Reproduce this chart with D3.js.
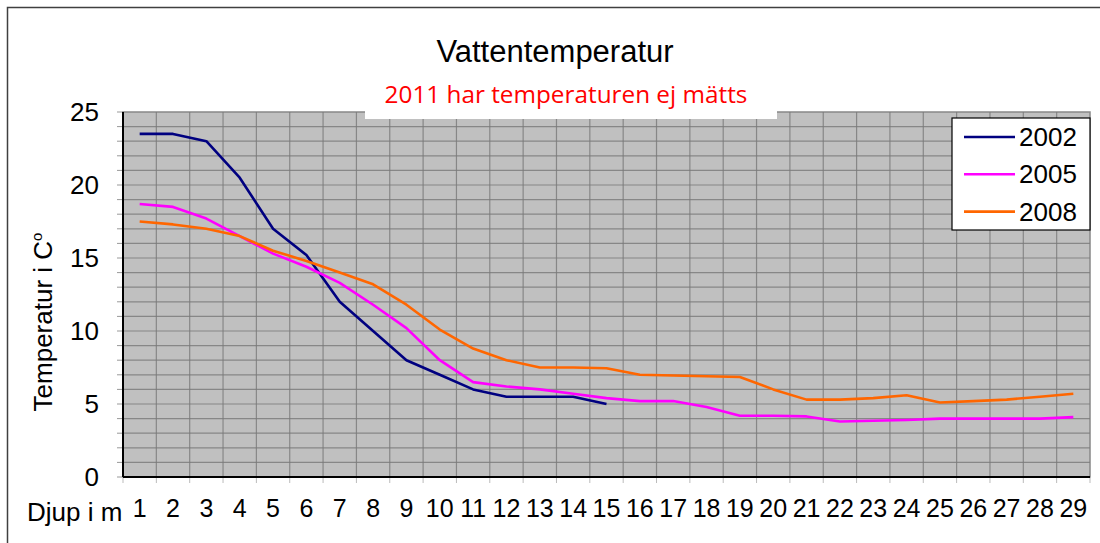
<!DOCTYPE html>
<html lang="sv">
<head>
<meta charset="UTF-8">
<title>Vattentemperatur</title>
<script src="https://d3js.org/d3.v7.min.js"></script>
<style>
body { margin: 0; background: #fff; }
svg { display: block; font-family: "Liberation Sans", Arial, sans-serif; }
</style>
</head>
<body>
<div id="chart"></div>
<script>
// depth categories (m)
const depths = d3.range(1, 30);
const years = ["2002", "2005", "2008"];
const colors = ["#000080", "#ff00ff", "#ff6600"];

const t2002 = [23.5, 23.5, 23.0, 20.5, 17.0, 15.2, 12.0, 10.0, 8.0, 7.0, 6.0, 5.5, 5.5, 5.5, 5.0];
const t2005 = [18.7, 18.5, 17.7, 16.5, 15.3, 14.4, 13.3, 11.8, 10.2, 8.0, 6.5, 6.2, 6.0, 5.7, 5.4,
               5.2, 5.2, 4.8, 4.2, 4.2, 4.15, 3.8, 3.85, 3.9, 4.0, 4.0, 4.0, 4.0, 4.1];
const t2008 = [17.5, 17.3, 17.0, 16.5, 15.5, 14.8, 14.0, 13.2, 11.8, 10.1, 8.8, 8.0, 7.5, 7.5, 7.45,
               7.0, 6.95, 6.9, 6.85, 6.0, 5.3, 5.3, 5.4, 5.6, 5.1, 5.2, 5.3, 5.5, 5.7];
const series = [t2002, t2005, t2008];

const yMajor = [0, 5, 10, 15, 20, 25];

const W = 1100, H = 543;
const m = { left: 123, top: 112, right: 1090, bottom: 477 };

const svg = d3.select("#chart").append("svg")
  .attr("width", W).attr("height", H);

// outer frame
svg.append("rect")
  .attr("x", 7.5).attr("y", 7.5).attr("width", W).attr("height", H)
  .attr("fill", "none").attr("stroke", "#404040").attr("stroke-width", 1.5);

const x = d3.scaleBand().domain(depths).range([m.left, m.right]);
const y = d3.scaleLinear().domain([0, 25]).range([m.bottom, m.top]);

// plot area
svg.append("rect")
  .attr("x", m.left).attr("y", m.top)
  .attr("width", m.right - m.left).attr("height", m.bottom - m.top)
  .attr("fill", "#c0c0c0").attr("stroke", "#888").attr("stroke-width", 1.5);

// horizontal grid every degree
svg.append("g").selectAll("line")
  .data(d3.range(1, 25))
  .join("line")
  .attr("x1", m.left).attr("x2", m.right)
  .attr("y1", d => y(d)).attr("y2", d => y(d))
  .attr("stroke", "#7a7a7a").attr("stroke-width", 1.2).attr("opacity", 0.8);

// vertical grid at band edges
svg.append("g").selectAll("line")
  .data(depths.slice(1))
  .join("line")
  .attr("x1", d => x(d)).attr("x2", d => x(d))
  .attr("y1", m.top).attr("y2", m.bottom)
  .attr("stroke", "#7a7a7a").attr("stroke-width", 1.2).attr("opacity", 0.8);

// y axis: minor ticks each degree, labels every 5
const yAxis = svg.append("g");
yAxis.selectAll("line.tick")
  .data(d3.range(0, 26))
  .join("line")
  .attr("class", "tick")
  .attr("x1", m.left - 6).attr("x2", m.left)
  .attr("y1", d => y(d)).attr("y2", d => y(d))
  .attr("stroke", "#999");
yAxis.selectAll("text")
  .data(yMajor)
  .join("text")
  .attr("x", 99).attr("y", d => y(d) + 9)
  .attr("text-anchor", "end")
  .attr("font-size", 26)
  .text(d => d);
yAxis.append("line")
  .attr("x1", m.left).attr("x2", m.left)
  .attr("y1", m.top).attr("y2", m.bottom)
  .attr("stroke", "#000").attr("stroke-width", 2);

// x axis
const xAxis = svg.append("g");
xAxis.selectAll("line.tick")
  .data(depths.concat([30]))
  .join("line")
  .attr("class", "tick")
  .attr("x1", (d, i) => m.left + i * x.step()).attr("x2", (d, i) => m.left + i * x.step())
  .attr("y1", m.bottom).attr("y2", m.bottom + 6)
  .attr("stroke", "#bbb");
xAxis.selectAll("text")
  .data(depths)
  .join("text")
  .attr("x", d => x(d) + x.bandwidth() / 2)
  .attr("y", 517)
  .attr("text-anchor", "middle")
  .attr("font-size", 25)
  .text(d => d);
xAxis.append("line")
  .attr("x1", m.left).attr("x2", m.right)
  .attr("y1", m.bottom).attr("y2", m.bottom)
  .attr("stroke", "#000").attr("stroke-width", 2);

svg.append("text")
  .attr("x", 27).attr("y", 521)
  .attr("font-size", 26)
  .text("Djup i m");

// y title
const yt = svg.append("text")
  .attr("transform", "translate(52,322) rotate(-90)")
  .attr("text-anchor", "middle")
  .attr("font-size", 26);
yt.append("tspan").text("Temperatur i C");
yt.append("tspan").attr("font-size", 15).attr("dy", -10).text("o");

// series lines
const line = d3.line()
  .defined(d => d != null)
  .x((d, i) => x(depths[i]) + x.bandwidth() / 2)
  .y(d => y(d));

svg.append("g").selectAll("path")
  .data(series)
  .join("path")
  .attr("d", line)
  .attr("fill", "none")
  .attr("stroke", (d, i) => colors[i])
  .attr("stroke-width", 2.6)
  .attr("stroke-linejoin", "round");

// title
svg.append("text")
  .attr("x", 555).attr("y", 62)
  .attr("text-anchor", "middle")
  .attr("font-size", 31)
  .text("Vattentemperatur");

// subtitle on a white box
svg.append("rect")
  .attr("x", 365).attr("y", 74).attr("width", 412).attr("height", 45)
  .attr("fill", "#fff");
const sub = svg.append("text")
  .attr("x", 566).attr("y", 103)
  .attr("text-anchor", "middle")
  .attr("fill", "#ff0000")
  .style("font-family", "'Open Sans', sans-serif")
  .attr("font-size", 24)
  .text("2011 har temperaturen ej mätts");
const subW = sub.node().getComputedTextLength();
sub.attr("font-size", 24 * 363 / subW);

// legend
const lg = svg.append("g");
lg.append("rect")
  .attr("x", 952).attr("y", 118).attr("width", 138).attr("height", 112)
  .attr("fill", "#fff").attr("stroke", "#000").attr("stroke-width", 1.2);
const item = lg.selectAll("g.item")
  .data(years)
  .join("g")
  .attr("class", "item")
  .attr("transform", (d, i) => `translate(0,${137 + i * 37.3})`);
item.append("line")
  .attr("x1", 964).attr("x2", 1015)
  .attr("stroke", (d, i) => colors[i]).attr("stroke-width", 2.6);
item.append("text")
  .attr("x", 1019).attr("y", 9)
  .attr("font-size", 26)
  .text(d => d);
</script>
</body>
</html>
